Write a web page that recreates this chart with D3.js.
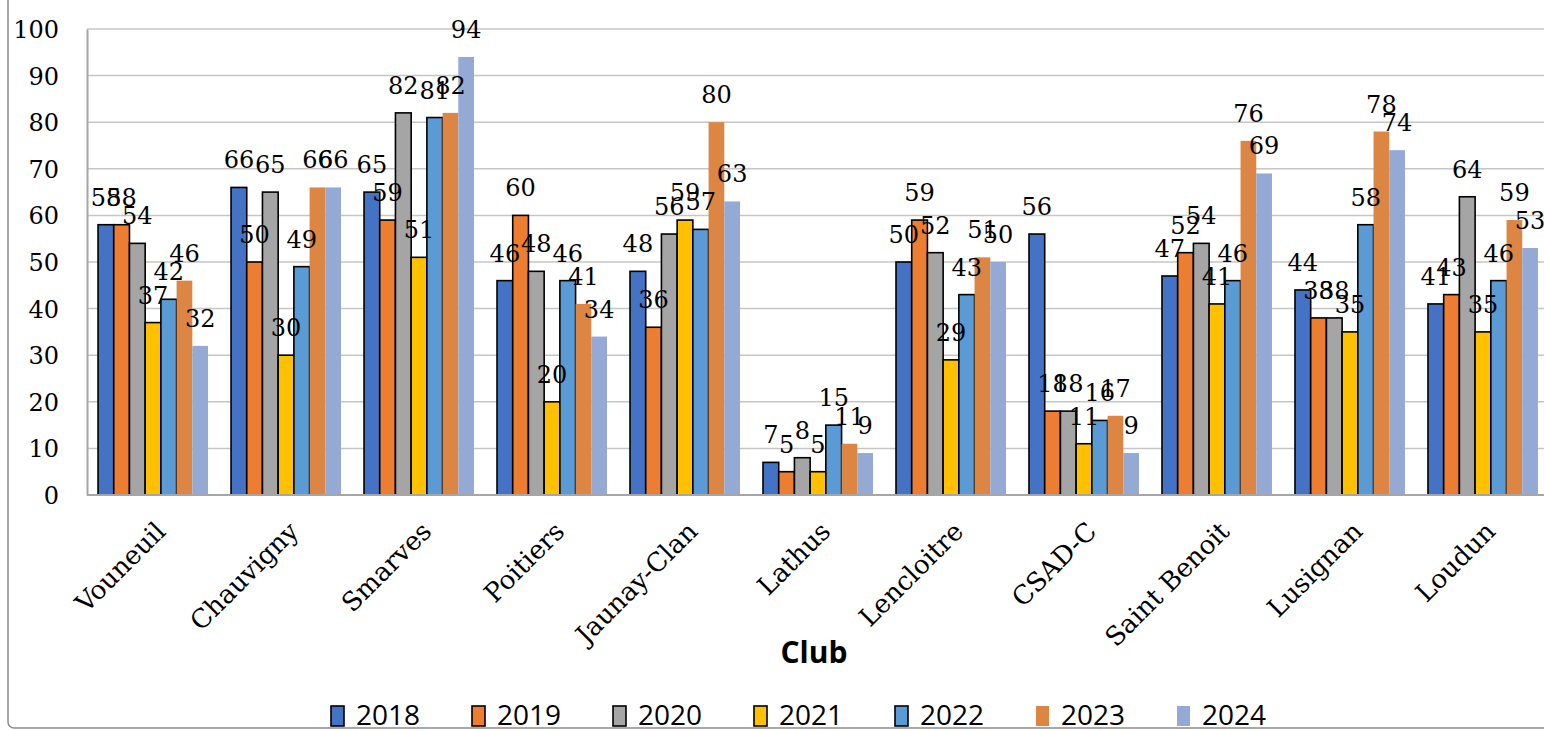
<!DOCTYPE html>
<html>
<head>
<meta charset="utf-8">
<script src="https://cdn.jsdelivr.net/npm/d3@7"></script>
<style>
  html, body { margin: 0; padding: 0; background: #fff; }
  svg { display: block; }
</style>
</head>
<body>
<div id="chart"></div>
<script>
var clubs = ["Vouneuil", "Chauvigny", "Smarves", "Poitiers", "Jaunay-Clan", "Lathus",
             "Lencloitre", "CSAD-C", "Saint Benoit", "Lusignan", "Loudun"];
var years = ["2018", "2019", "2020", "2021", "2022", "2023", "2024"];

var v2018 = [58, 66, 65, 46, 48, 7, 50, 56, 47, 44, 41];
var v2019 = [58, 50, 59, 60, 36, 5, 59, 18, 52, 38, 43];
var v2020 = [54, 65, 82, 48, 56, 8, 52, 18, 54, 38, 64];
var v2021 = [37, 30, 51, 20, 59, 5, 29, 11, 41, 35, 35];
var v2022 = [42, 49, 81, 46, 57, 15, 43, 16, 46, 58, 46];
var v2023 = [46, 66, 82, 41, 80, 11, 51, 17, 76, 78, 59];
var v2024 = [32, 66, 94, 34, 63, 9, 50, 9, 69, 74, 53];

var yTicks = [0, 10, 20, 30, 40, 50, 60, 70, 80, 90, 100];

function drawChart() {
    var series = [v2018, v2019, v2020, v2021, v2022, v2023, v2024];
    var colors = ["#4472C4", "#ED7D31", "#A5A5A5", "#FFC000", "#5B9BD5", "#DD8643", "#94AAD4"];
    var outlined = [true, true, true, true, true, false, false];

    var W = 1544, H = 731;
    var plotLeft = 87, plotRight = 1549, plotTop = 29, plotBottom = 495;

    var svg = d3.select("#chart").append("svg")
        .attr("width", W).attr("height", H);

    // outer chart border (only the left / bottom part is visible)
    svg.append("rect")
        .attr("x", 8).attr("y", -30)
        .attr("width", W + 40).attr("height", 758)
        .attr("rx", 6).attr("ry", 6)
        .attr("fill", "none")
        .attr("stroke", "#8c8c8c")
        .attr("stroke-width", 1.5);

    var x0 = d3.scaleBand().domain(clubs)
        .range([plotLeft, plotRight])
        .paddingInner(0.173).paddingOuter(0.083);

    var x1 = d3.scaleBand().domain(years)
        .range([0, x0.bandwidth()]);

    var y = d3.scaleLinear().domain([0, 100]).range([plotBottom, plotTop]);

    // gridlines
    svg.append("g").selectAll("line")
        .data(yTicks.filter(function(d) { return d > 0; }))
        .enter().append("line")
        .attr("x1", plotLeft).attr("x2", W)
        .attr("y1", function(d) { return y(d); })
        .attr("y2", function(d) { return y(d); })
        .attr("stroke", "#c6c6c6")
        .attr("stroke-width", 1.5);

    // y axis
    var yAxis = d3.axisLeft(y).tickValues(yTicks).tickSize(0).tickPadding(28);
    var gy = svg.append("g")
        .attr("transform", "translate(" + plotLeft + ",0)")
        .call(yAxis);
    gy.select(".domain").attr("stroke", "#a6a6a6").attr("stroke-width", 2);
    gy.selectAll("text")
        .attr("font-family", "'DejaVu Serif', serif")
        .attr("font-size", 24)
        .attr("fill", "#000")
        .attr("dy", "0.35em");

    function rowsFor(d, i) {
        return years.map(function(yr, k) {
            return { year: yr, k: k, value: series[k][i] };
        });
    }

    // bars
    var groups = svg.append("g").selectAll("g")
        .data(clubs)
        .enter().append("g")
        .attr("transform", function(d) { return "translate(" + x0(d) + ",0)"; });

    groups.selectAll("rect")
        .data(rowsFor)
        .enter().append("rect")
        .attr("x", function(d) { return x1(d.year); })
        .attr("y", function(d) { return y(d.value); })
        .attr("width", x1.bandwidth())
        .attr("height", function(d) { return plotBottom - y(d.value); })
        .attr("fill", function(d) { return colors[d.k]; })
        .attr("stroke", function(d) { return outlined[d.k] ? "#000" : "none"; })
        .attr("stroke-width", 1.6);

    // x axis line
    svg.append("line")
        .attr("x1", plotLeft).attr("x2", W)
        .attr("y1", plotBottom).attr("y2", plotBottom)
        .attr("stroke", "#a6a6a6").attr("stroke-width", 2);

    // data labels
    groups.selectAll("text.val")
        .data(rowsFor)
        .enter().append("text").classed("val", true)
        .attr("x", function(d) { return x1(d.year) + x1.bandwidth() / 2; })
        .attr("y", function(d) { return y(d.value) - 19; })
        .attr("text-anchor", "middle")
        .attr("font-family", "'DejaVu Serif', serif")
        .attr("font-size", 24)
        .attr("fill", "#000")
        .text(function(d) { return d.value; });

    // category labels
    svg.append("g").selectAll("text")
        .data(clubs)
        .enter().append("text")
        .attr("transform", function(d) {
            var cx = x0(d) + x0.bandwidth() / 2 + 14;
            return "translate(" + cx + ",533) rotate(-45)";
        })
        .attr("text-anchor", "end")
        .attr("font-family", "'DejaVu Serif', serif")
        .attr("font-size", 26)
        .attr("fill", "#000")
        .text(function(d) { return d; });

    // axis title
    svg.append("text")
        .attr("x", 814).attr("y", 663)
        .attr("text-anchor", "middle")
        .attr("font-family", "'Open Sans', sans-serif")
        .attr("font-weight", "bold")
        .attr("font-size", 30)
        .attr("fill", "#000")
        .text("Club");

    // legend
    var legend = svg.append("g").selectAll("g")
        .data(years)
        .enter().append("g")
        .attr("transform", function(d, i) { return "translate(" + (331 + i * 141) + ",706)"; });

    legend.append("rect")
        .attr("width", 13).attr("height", 20)
        .attr("fill", function(d, i) { return colors[i]; })
        .attr("stroke", function(d, i) { return outlined[i] ? "#000" : "none"; })
        .attr("stroke-width", 1.6);

    legend.append("text")
        .attr("x", 25).attr("y", 19)
        .attr("font-family", "'Open Sans', sans-serif")
        .attr("font-size", 28)
        .attr("fill", "#000")
        .text(function(d) { return d; });
}

drawChart();
</script>
</body>
</html>
